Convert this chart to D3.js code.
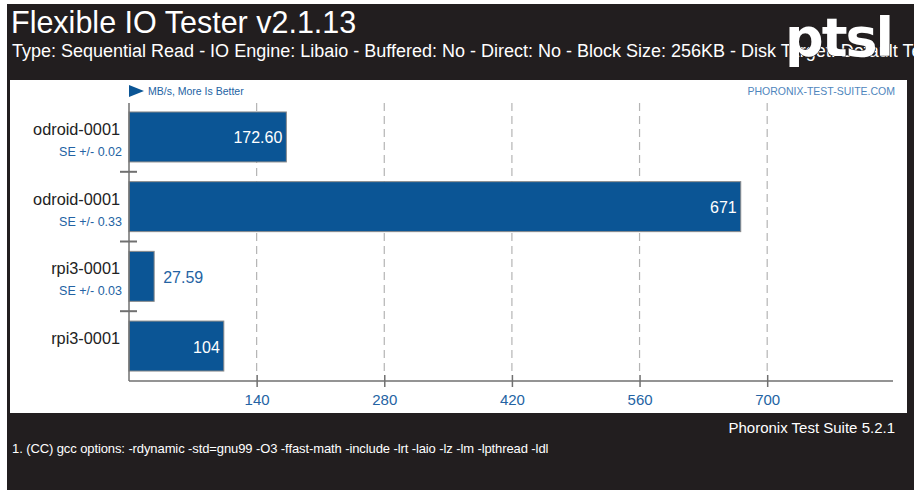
<!DOCTYPE html>
<html>
<head>
<meta charset="utf-8">
<script src="https://cdn.jsdelivr.net/npm/d3@7"></script>
<style>
  body { margin: 0; background: #fff; }
  svg { display: block; font-family: "Liberation Sans", Arial, sans-serif; }
</style>
</head>
<body>
<svg id="chart" width="914" height="490"></svg>
<script>
// values
const systems = ['odroid-0001', 'odroid-0001', 'rpi3-0001', 'rpi3-0001'];
const results = [172.60, 671, 27.59, 104];
const resultLabels = ['172.60', '671', '27.59', '104'];
const seLabels = ['SE +/- 0.02', 'SE +/- 0.33', 'SE +/- 0.03', ''];
const xTicks = [140, 280, 420, 560, 700];

const title = 'Flexible IO Tester v2.1.13';
const subtitle = 'Type: Sequential Read - IO Engine: Libaio - Buffered: No - Direct: No - Block Size: 256KB - Disk Target: Default Test Directory';
const footnote = '1. (CC) gcc options: -rdynamic -std=gnu99 -O3 -ffast-math -include -lrt -laio -lz -lm -lpthread -ldl';

const dark = '#221e1f';
const barBlue = '#0b5595';
const textBlue = '#2463a3';

const svg = d3.select('#chart');

// frame
svg.append('rect').attr('x', 7).attr('y', 4).attr('width', 907).attr('height', 486).attr('fill', dark);
svg.append('rect').attr('x', 10).attr('y', 80).attr('width', 897).attr('height', 333).attr('fill', '#fff');

// header
svg.append('text').attr('x', 11).attr('y', 33)
   .attr('fill', '#fff').attr('font-size', 30.5).text(title);
svg.append('text').attr('x', 12).attr('y', 57)
   .attr('fill', '#fff').attr('font-size', 18).text(subtitle);

// logo
svg.append('text').attr('x', 785).attr('y', 56)
   .attr('fill', '#fff').attr('stroke', dark).attr('stroke-width', 1)
   .attr('paint-order', 'stroke')
   .attr('font-size', 54).attr('font-weight', 'bold')
   .attr('font-family', 'DejaVu Sans').attr('letter-spacing', -2)
   .text('ptsl');

// scales
const x = d3.scaleLinear().domain([0, 838]).range([129, 893]);
const y = d3.scaleBand().domain(d3.range(systems.length))
   .range([102, 381]).paddingInner(0.283).paddingOuter(0.143);

const chart = svg.append('g');

// dashed grid
chart.selectAll('line.grid').data(xTicks).join('line')
   .attr('class', 'grid')
   .attr('x1', d => x(d)).attr('x2', d => x(d))
   .attr('y1', 103).attr('y2', 375)
   .attr('stroke', '#b4b4b4').attr('stroke-width', 1.2)
   .attr('stroke-dasharray', '8,5');

// bars
chart.selectAll('rect.bar').data(results).join('rect')
   .attr('class', 'bar')
   .attr('x', x(0))
   .attr('y', (d, i) => y(i))
   .attr('width', d => x(d) - x(0))
   .attr('height', y.bandwidth())
   .attr('fill', barBlue)
   .attr('stroke', '#8a8a8a').attr('stroke-width', 1);

// value labels
chart.selectAll('text.val').data(results).join('text')
   .attr('class', 'val')
   .attr('font-size', 16)
   .attr('dominant-baseline', 'central')
   .attr('y', (d, i) => y(i) + y.bandwidth() / 2 + 1)
   .each(function (d, i) {
      const w = x(d) - x(0);
      const t = d3.select(this).text(resultLabels[i]);
      if (w > 70) {
         t.attr('x', x(d) - 4).attr('text-anchor', 'end').attr('fill', '#fff');
      } else {
         t.attr('x', x(d) + 9).attr('text-anchor', 'start').attr('fill', textBlue);
      }
   });

// category labels
chart.selectAll('text.sys').data(systems).join('text')
   .attr('class', 'sys')
   .attr('x', 120)
   .attr('y', (d, i) => y(i) + y.bandwidth() / 2 - 8)
   .attr('text-anchor', 'end').attr('dominant-baseline', 'central')
   .attr('font-size', 16.3).attr('fill', '#222')
   .text(d => d);

chart.selectAll('text.se').data(seLabels).join('text')
   .attr('class', 'se')
   .attr('x', 122)
   .attr('y', (d, i) => y(i) + y.bandwidth() / 2 + 15)
   .attr('text-anchor', 'end').attr('dominant-baseline', 'central')
   .attr('font-size', 12.5).attr('fill', textBlue)
   .text(d => d);

// separators between groups
const step = y.step();
chart.selectAll('line.sep').data(d3.range(1, systems.length)).join('line')
   .attr('class', 'sep')
   .attr('x1', 120).attr('x2', 137)
   .attr('y1', i => y(i) - step * y.paddingInner() / 2)
   .attr('y2', i => y(i) - step * y.paddingInner() / 2)
   .attr('stroke', '#707070').attr('stroke-width', 2);

// axes
chart.append('line')
   .attr('x1', x(0)).attr('x2', x(0)).attr('y1', 103).attr('y2', 381)
   .attr('stroke', '#707070').attr('stroke-width', 1.5);

const xAxis = d3.axisBottom(x).tickValues(xTicks).tickSize(6).tickPadding(4);
const xAxisGroup = chart.append('g')
   .attr('transform', 'translate(0,381)')
   .call(xAxis);
xAxisGroup.select('.domain').remove();
xAxisGroup.insert('line', ':first-child')
   .attr('x1', x(0)).attr('x2', x(838)).attr('y1', 0).attr('y2', 0)
   .attr('stroke', '#707070').attr('stroke-width', 1.5);
xAxisGroup.selectAll('.tick line')
   .attr('y1', -6).attr('y2', 6)
   .attr('stroke', '#707070').attr('stroke-width', 1.5);
xAxisGroup.selectAll('.tick text')
   .attr('font-size', 15).attr('font-family', '"Liberation Sans", Arial, sans-serif')
   .attr('fill', textBlue).attr('dy', '0.9em');

// top captions
chart.append('path')
   .attr('d', d3.line()([[x(0), 85], [x(0) + 15, 91], [x(0), 97]]) + 'Z')
   .attr('fill', barBlue);
chart.append('text').attr('x', x(0) + 19).attr('y', 91)
   .attr('dominant-baseline', 'central')
   .attr('font-size', 10.5).attr('fill', textBlue)
   .text("MB/s, More Is Better");
chart.append('text').attr('x', 895).attr('y', 91)
   .attr('text-anchor', 'end').attr('dominant-baseline', 'central')
   .attr('font-size', 10.5).attr('fill', '#4f86bd')
   .text('PHORONIX-TEST-SUITE.COM');

// footer
svg.append('text').attr('x', 895).attr('y', 433)
   .attr('text-anchor', 'end').attr('fill', '#fff').attr('font-size', 15)
   .text('Phoronix Test Suite 5.2.1');
svg.append('text').attr('x', 12).attr('y', 453)
   .attr('fill', '#fff').attr('font-size', 13).attr('letter-spacing', -0.1)
   .text(footnote);
</script>
</body>
</html>
